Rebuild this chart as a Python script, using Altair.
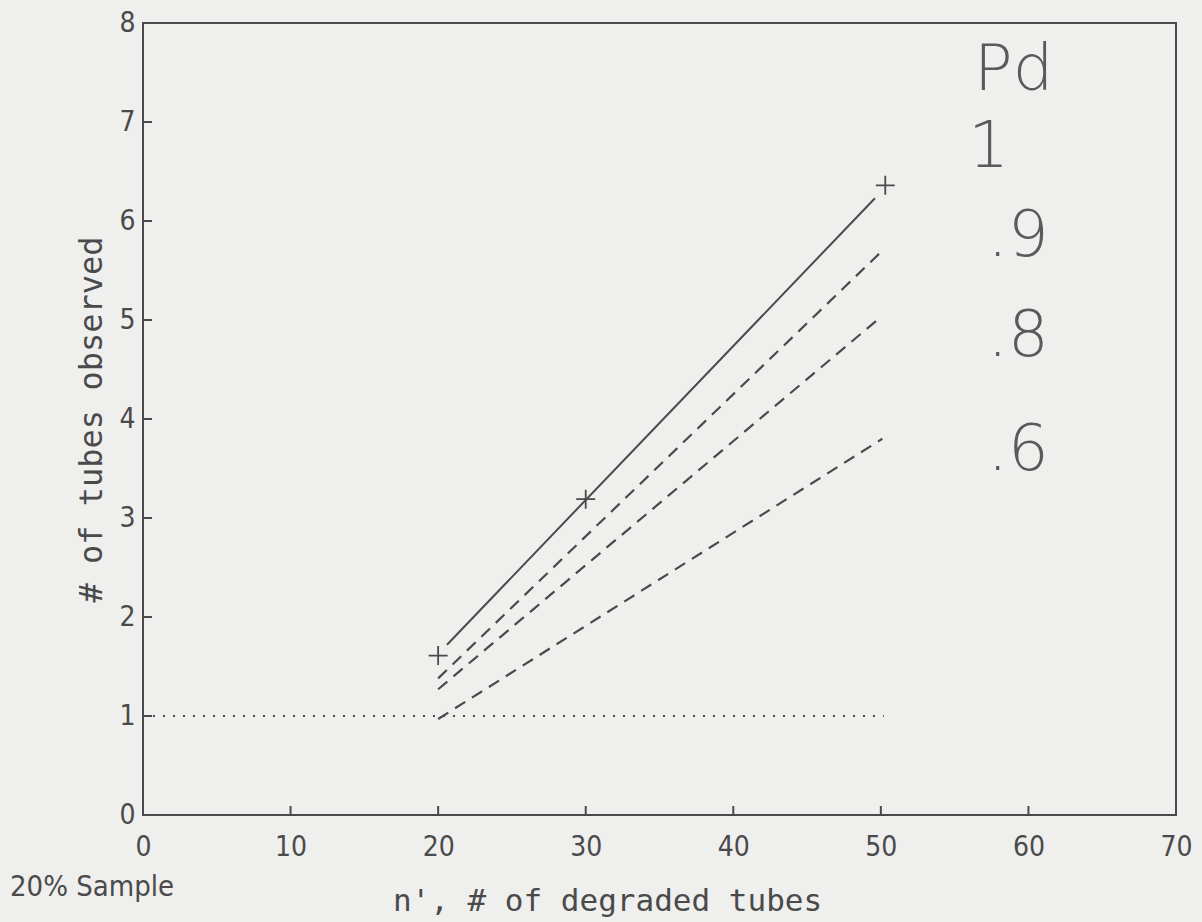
import altair as alt
import pandas as pd

# Curves for different Pd (probability of detection)
pd_names = ["1", ".9", ".8", ".6"]
x_start = [20.6, 20.0, 20.0, 20.0]
y_start = [1.72, 1.38, 1.27, 0.97]
x_end = [49.6, 50.1, 50.0, 50.1]
y_end = [6.23, 5.70, 5.03, 3.80]
dashed = [False, True, True, True]

# Plus markers
plus_x = [20, 30, 50.3]
plus_y = [1.61, 3.19, 6.36]

# Horizontal reference (1 tube observed)
ref_x = [0, 50.2]
ref_y = [1.0, 1.0]

# Legend text drawn inside the plot
leg_text = ["Pd", "1", ".9", ".8", ".6"]
leg_x = [59.0, 57.3, 59.3, 59.3, 59.3]
leg_y = [7.52, 6.74, 5.84, 4.83, 3.68]

x_ticks = [0, 10, 20, 30, 40, 50, 60, 70]
y_ticks = [0, 1, 2, 3, 4, 5, 6, 7, 8]

INK = "#4a4a4a"
LABEL_FONT = "DejaVu Sans Condensed, Roboto Condensed, Roboto, sans-serif"
W, H = 1033, 792

rows = []
for n, xs, ys, xe, ye, d in zip(pd_names, x_start, y_start, x_end, y_end, dashed):
    rows.append({"pd": n, "x": xs, "y": ys, "d": d})
    rows.append({"pd": n, "x": xe, "y": ye, "d": d})
lines_df = pd.DataFrame(rows)

xs = alt.Scale(domain=[0, 70], nice=False, zero=False)
ys = alt.Scale(domain=[0, 8], nice=False, zero=False)

xaxis = alt.Axis(values=x_ticks, format="d", tickSize=0, labelPadding=18, domain=False, grid=False,
                 labelFlush=False, labelBound=False, labelFontSize=28, labelColor=INK,
                 labelFont=LABEL_FONT, labelFontWeight="normal",
                 title="n', # of degraded tubes", titleFontSize=31, titleColor=INK,
                 titleFont="DejaVu Sans Mono", titleFontWeight="normal",
                 titleX=464, titleAlign="center", titleY=86, titleBaseline="middle")
yaxis = alt.Axis(values=y_ticks, format="d", tickSize=0, labelPadding=8, domain=False, grid=False,
                 labelFlush=False, labelFontSize=28, labelColor=INK, labelFont=LABEL_FONT,
                 labelFontWeight="normal",
                 title="# of tubes observed", titleFontSize=32, titleColor=INK,
                 titleFont="DejaVu Sans Mono", titleFontWeight="normal",
                 titleX=-52, titleY=396, titleAlign="center", titleBaseline="middle")

solid = alt.Chart(lines_df[~lines_df.d]).mark_line(color=INK, strokeWidth=2).encode(
    x=alt.X("x:Q", scale=xs, axis=xaxis),
    y=alt.Y("y:Q", scale=ys, axis=yaxis),
    detail="pd:N",
)
dash = alt.Chart(lines_df[lines_df.d]).mark_line(color=INK, strokeWidth=2.2, strokeDash=[12, 8]).encode(
    x=alt.X("x:Q", scale=xs), y=alt.Y("y:Q", scale=ys), detail="pd:N"
)
ref = alt.Chart(pd.DataFrame({"x": ref_x, "y": ref_y})).mark_line(
    color=INK, strokeWidth=2.2, strokeDash=[2, 8]
).encode(x=alt.X("x:Q", scale=xs), y=alt.Y("y:Q", scale=ys))

plus = alt.Chart(pd.DataFrame({"x": plus_x, "y": plus_y})).mark_point(
    shape="M-1,0L1,0M0,-1L0,1", size=360, filled=False, stroke=INK, strokeWidth=1.8, opacity=1
).encode(x=alt.X("x:Q", scale=xs), y=alt.Y("y:Q", scale=ys))

leg = alt.Chart(pd.DataFrame({"t": leg_text, "x": leg_x, "y": leg_y})).mark_text(
    fontSize=64, font="DejaVu Sans", fontWeight=200, color="#5a5a5a", align="center", baseline="middle"
).encode(x=alt.X("x:Q", scale=xs), y=alt.Y("y:Q", scale=ys), text="t:N")

# inward ticks
xt = alt.Chart(pd.DataFrame({"v": x_ticks[1:-1]})).mark_rule(color=INK, strokeWidth=2).encode(
    x=alt.X("v:Q", scale=xs), y=alt.value(H), y2=alt.value(H - 9)
)
yt = alt.Chart(pd.DataFrame({"v": y_ticks[1:-1]})).mark_rule(color=INK, strokeWidth=2).encode(
    y=alt.Y("v:Q", scale=ys), x=alt.value(0), x2=alt.value(9)
)

note = alt.Chart(pd.DataFrame({"t": ["20% Sample"]})).mark_text(
    fontSize=29, font=LABEL_FONT, color=INK, align="left", baseline="middle"
).encode(text="t:N", x=alt.value(-133), y=alt.value(H + 72))

chart = alt.layer(ref, dash, solid, plus, leg, xt, yt, note).properties(
    width=W, height=H,
    autosize="none",
    padding={"left": 143, "top": 23, "right": 26, "bottom": 107},
    background="#efefed",
).configure_view(stroke=INK, strokeWidth=2)

chart.save("out.html", embed_options={"renderer": "svg", "actions": False})
